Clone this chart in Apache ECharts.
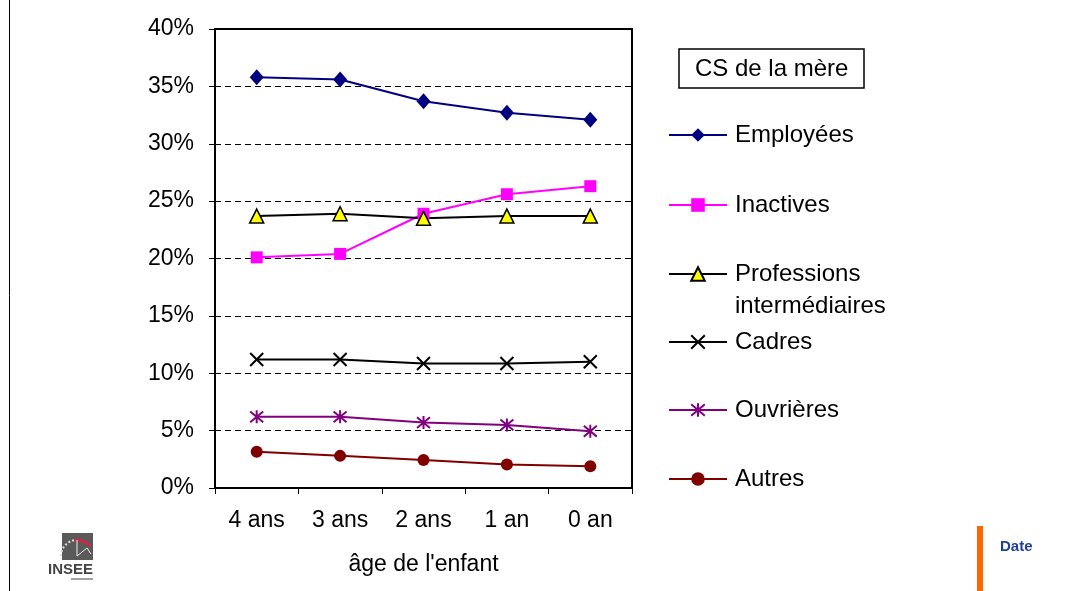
<!DOCTYPE html>
<html>
<head>
<meta charset="utf-8">
<script src="https://cdn.jsdelivr.net/npm/echarts@6/dist/echarts.min.js"></script>
<style>
  html, body { margin: 0; padding: 0; background: #fff; }
  #chart { width: 1074px; height: 591px; }
</style>
</head>
<body>
<div id="chart"></div>
<script>
// catégories (âge de l'enfant) et valeurs en %
const categories = ['4 ans', '3 ans', '2 ans', '1 an', '0 an']
const employees = [35.8, 35.6, 33.7, 32.7, 32.1]
const inactives = [20.1, 20.4, 23.9, 25.6, 26.3]
const professions = [23.7, 23.9, 23.5, 23.7, 23.7]
const cadres = [11.2, 11.2, 10.85, 10.85, 11.0]
const ouvrieres = [6.2, 6.2, 5.7, 5.5, 4.95]
const autres = [3.15, 2.8, 2.45, 2.05, 1.9]

const seriesNames = ['Employées', 'Inactives', 'Professions intermédiaires', 'Cadres', 'Ouvrières', 'Autres']
const legendCenters = [135, 205, 275, 342, 410, 479]

const FONT = '"Liberation Sans", Arial, sans-serif'
const crossPath = 'path://M0,0L10,10M10,0L0,10'
const starPath = 'path://M0,0L10,10M10,0L0,10M5,-1L5,11'

const chart = echarts.init(document.getElementById('chart'))

// une légende par série, pour placer chaque entrée comme sur l'original
const legends = seriesNames.map((name, i) => {
  const twoLines = name === 'Professions intermédiaires'
  return {
    data: [name],
    left: 668,
    top: twoLines ? legendCenters[i] - 49 : legendCenters[i] - 13,
    orient: 'vertical',
    padding: 0,
    itemWidth: 58,
    itemHeight: 17,
    selectedMode: false,
    // ligne vide en tête : "Professions" reste en face du symbole
    formatter: twoLines ? ' \nProfessions\nintermédiaires' : '{name}',
    textStyle: {
      fontFamily: FONT,
      fontSize: 24,
      color: '#000',
      lineHeight: twoLines ? 32 : 26,
      padding: [0, 0, 0, 3]
    }
  }
})

const option = {
  animation: false,
  backgroundColor: '#fff',
  title: {
    text: 'CS de la mère',
    left: 679,
    top: 49,
    padding: [8, 16, 7, 16],
    borderColor: '#000',
    borderWidth: 1.5,
    textStyle: { fontFamily: FONT, fontSize: 24, fontWeight: 'normal', color: '#000' }
  },
  legend: legends,
  grid: {
    left: 215,
    right: 442,
    top: 29,
    bottom: 103,
    show: true,
    borderColor: '#000',
    borderWidth: 2,
    backgroundColor: '#fff'
  },
  xAxis: {
    type: 'category',
    data: categories,
    boundaryGap: true,
    name: "âge de l'enfant",
    nameLocation: 'middle',
    nameGap: 65,
    nameTextStyle: { fontFamily: FONT, fontSize: 23, color: '#000' },
    axisLine: { lineStyle: { color: '#000', width: 2 } },
    axisTick: { show: true, length: 6, lineStyle: { color: '#000', width: 1 } },
    axisLabel: { fontFamily: FONT, fontSize: 23, color: '#000', margin: 21 }
  },
  yAxis: {
    type: 'value',
    min: 0,
    max: 40,
    interval: 5,
    axisLine: { show: true, lineStyle: { color: '#000', width: 2 } },
    axisTick: { show: true, length: 6, lineStyle: { color: '#000', width: 1 } },
    axisLabel: { fontFamily: FONT, fontSize: 23, color: '#000', margin: 21, formatter: '{value}%' },
    splitLine: { show: true, lineStyle: { color: '#000', width: 1, type: [6, 4] } }
  },
  series: [
    {
      name: 'Employées', type: 'line', data: employees,
      symbol: 'diamond', symbolSize: [14, 16],
      itemStyle: { color: '#000080' },
      lineStyle: { color: '#000080', width: 2 }
    },
    {
      name: 'Inactives', type: 'line', data: inactives,
      symbol: 'rect', symbolSize: 12,
      itemStyle: { color: '#ff00ff' },
      lineStyle: { color: '#ff00ff', width: 2 }
    },
    {
      name: 'Professions intermédiaires', type: 'line', data: professions,
      symbol: 'triangle', symbolSize: 14,
      itemStyle: { color: '#ffff00', borderColor: '#000', borderWidth: 1.5 },
      lineStyle: { color: '#000', width: 2 }
    },
    {
      name: 'Cadres', type: 'line', data: cadres,
      symbol: crossPath, symbolSize: 13,
      itemStyle: { color: '#000', borderColor: '#000', borderWidth: 2 },
      lineStyle: { color: '#000', width: 2 }
    },
    {
      name: 'Ouvrières', type: 'line', data: ouvrieres,
      symbol: starPath, symbolSize: 13,
      itemStyle: { color: '#800080', borderColor: '#800080', borderWidth: 2 },
      lineStyle: { color: '#800080', width: 2 }
    },
    {
      name: 'Autres', type: 'line', data: autres,
      symbol: 'circle', symbolSize: 12,
      itemStyle: { color: '#800000' },
      lineStyle: { color: '#800000', width: 2 }
    }
  ],
  graphic: [
    // bord gauche de la page
    { type: 'line', shape: { x1: 9.5, y1: 0, x2: 9.5, y2: 591 }, style: { stroke: '#000', lineWidth: 1 } },
    // bandeau "Date"
    { type: 'rect', shape: { x: 977, y: 526, width: 6, height: 65 }, style: { fill: '#ff6600' } },
    { type: 'text', left: 1000, top: 539, style: { text: 'Date', fill: '#1f3f99', font: 'bold 15px ' + FONT } },
    // logo INSEE
    {
      type: 'group', left: 48, top: 533,
      children: [
        { type: 'rect', shape: { x: 15, y: 0, width: 31, height: 27 }, style: { fill: '#5a5a5a' } },
        { type: 'arc', shape: { cx: 30, cy: 23, r: 16, startAngle: Math.PI * 1.0, endAngle: Math.PI * 1.45 }, style: { stroke: '#ddd', lineWidth: 2, fill: null, lineDash: [2, 2] } },
        { type: 'arc', shape: { cx: 30, cy: 23, r: 16, startAngle: Math.PI * 1.45, endAngle: Math.PI * 1.8 }, style: { stroke: '#e0203a', lineWidth: 2.5, fill: null } },
        { type: 'polyline', shape: { points: [[30, 7], [30, 23], [40, 15], [44, 21]] }, style: { stroke: '#eee', lineWidth: 1, fill: null } },
        { type: 'text', x: 1, y: 29, style: { text: 'INSEE', fill: '#444', font: 'bold 15px ' + FONT } },
        { type: 'line', shape: { x1: 24, y1: 46, x2: 46, y2: 46 }, style: { stroke: '#444', lineWidth: 1 } }
      ]
    }
  ]
}

chart.setOption(option)
</script>
</body>
</html>
